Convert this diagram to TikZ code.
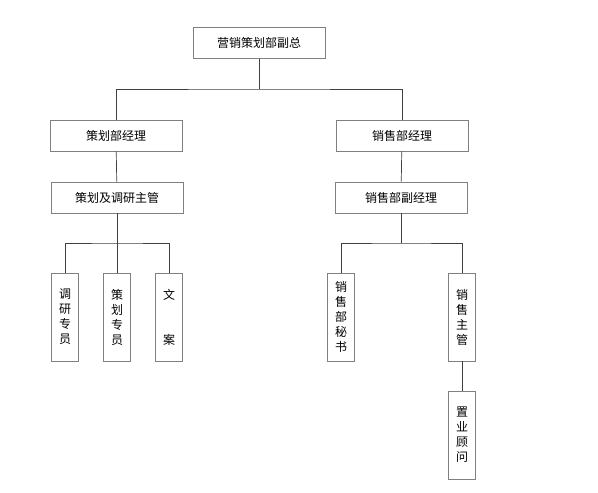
\documentclass[tikz,border=0pt]{standalone}
\usepackage{fontspec}
\setmainfont{Noto Sans CJK SC}

\begin{document}
\begin{tikzpicture}[x=1pt,y=-1pt,
  box/.style={draw=black!50,line width=0.8pt,minimum width=132pt,minimum height=31pt,
    inner sep=0pt,font=\fontsize{12}{15}\selectfont},
  vbox/.style={draw=black!50,line width=0.8pt,minimum width=27pt,minimum height=88pt,
    inner sep=0pt,align=center,font=\fontsize{12}{15}\selectfont},
  link/.style={draw=black!75,line width=0.7pt}]
  \useasboundingbox (0,0) rectangle (598,493);
  % top
  \node[box] (vp) at (259,43) {营销策划部副总};
  \coordinate (bus) at (259,89);
  % second row
  \node[box] (plan) at (116,135.5) {策划部经理};
  \node[box] (sales) at (402,135.5) {销售部经理};
  \node[box] (planlead) at (117,197.5) {策划及调研主管};
  \node[box] (salesdep) at (401,197.5) {销售部副经理};
  \coordinate (lbus) at (117,243);
  \coordinate (rbus) at (401,243);
  % bottom boxes
  \node[vbox] (research) at (65,317) {调\\研\\专\\员};
  \node[vbox] (planner) at (117,317) {策\\划\\专\\员};
  \node[vbox] (copy) at (169,317) {文\\ \\ \\案};
  \node[vbox] (secretary) at (341,317) {销\\售\\部\\秘\\书};
  \node[vbox] (saleslead) at (462,317) {销\\售\\主\\管};
  \node[vbox] (consultant) at (462,435) {置\\业\\顾\\问};
  % connectors
  \draw[link] (vp) -- (bus);
  \draw[link] (plan.north) |- (bus) -| (sales.north);
  \draw[link] (plan) -- (planlead);
  \draw[link] (sales) -- (salesdep);
  \draw[link] (planlead) -- (lbus);
  \draw[link] (research.north) |- (lbus) -| (copy.north);
  \draw[link] (planner) -- (lbus);
  \draw[link] (salesdep) -- (rbus);
  \draw[link] (secretary.north) |- (rbus) -| (saleslead.north);
  \draw[link] (saleslead) -- (consultant);
\end{tikzpicture}
\end{document}
